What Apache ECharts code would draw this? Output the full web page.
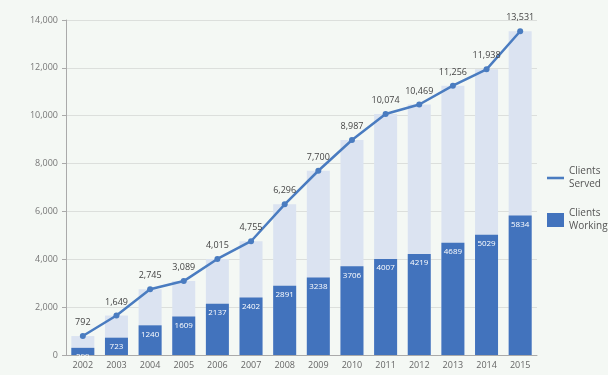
<!DOCTYPE html>
<html>
<head>
<meta charset="utf-8">
<script src="https://cdn.jsdelivr.net/npm/echarts@6/dist/echarts.min.js"></script>
<style>
  html, body { margin: 0; padding: 0; background: #f4f8f4; }
  #chart { width: 608px; height: 375px; }
</style>
</head>
<body>
<div id="chart"></div>
<script>
// Years on the category axis
const years = ['2002','2003','2004','2005','2006','2007','2008','2009','2010','2011','2012','2013','2014','2015'];
// Cumulative clients served
const clientsServed = [792, 1649, 2745, 3089, 4015, 4755, 6296, 7700, 8987, 10074, 10469, 11256, 11938, 13531];
// Clients working
const clientsWorking = [299, 723, 1240, 1609, 2137, 2402, 2891, 3238, 3706, 4007, 4219, 4689, 5029, 5834];

const chart = echarts.init(document.getElementById('chart'), null, { renderer: 'canvas' });

const font = '"Open Sans", "Liberation Sans", sans-serif';

chart.setOption({
  backgroundColor: '#f4f8f4',
  animation: false,
  grid: { left: 66, right: 71, top: 20, bottom: 20 },
  legend: {
    orient: 'vertical',
    left: 542,
    top: 160,
    itemWidth: 17,
    itemHeight: 14,
    itemGap: 16,
    data: [
      { name: 'Clients Served', icon: 'path://M0,6 L20,6 L20,9 L0,9 Z' },
      { name: 'Clients Working', icon: 'rect' }
    ],
    formatter: function (name) { return name.replace(' ', '\n'); },
    textStyle: { fontFamily: font, fontSize: 10, color: '#555', lineHeight: 13 }
  },
  xAxis: {
    type: 'category',
    data: years,
    axisLine: { lineStyle: { color: '#aaaaaa' } },
    axisTick: { lineStyle: { color: '#aaaaaa' } },
    axisLabel: { fontFamily: font, fontSize: 9, color: '#666', margin: 6 }
  },
  yAxis: {
    type: 'value',
    min: 0,
    max: 14000,
    interval: 2000,
    axisLine: { show: true, lineStyle: { color: '#aaaaaa' } },
    axisTick: { show: true, length: 4, lineStyle: { color: '#aaaaaa' } },
    splitLine: { lineStyle: { color: '#dcdfdc' } },
    axisLabel: {
      fontFamily: font, fontSize: 9, color: '#777', margin: 8,
      formatter: function (v) { return v.toLocaleString('en-US'); }
    }
  },
  series: [
    {
      name: 'Served Total',
      type: 'bar',
      data: clientsServed,
      barWidth: 23,
      itemStyle: { color: '#dbe3f1' },
      silent: true,
      z: 1
    },
    {
      name: 'Clients Working',
      type: 'bar',
      data: clientsWorking,
      barWidth: 23,
      barGap: '-100%',
      itemStyle: { color: '#4273bd' },
      label: {
        show: true,
        position: 'insideTop',
        distance: 5,
        fontFamily: font,
        fontSize: 8,
        color: '#ffffff'
      },
      z: 2
    },
    {
      name: 'Clients Served',
      type: 'line',
      data: clientsServed,
      symbol: 'circle',
      symbolSize: 6,
      lineStyle: { color: '#4a7cc0', width: 2.5 },
      itemStyle: { color: '#4a7cc0' },
      label: {
        show: true,
        position: 'top',
        distance: 6,
        fontFamily: font,
        fontSize: 9,
        color: '#444',
        formatter: function (p) { return p.value.toLocaleString('en-US'); }
      },
      z: 3
    }
  ]
});
</script>
</body>
</html>
